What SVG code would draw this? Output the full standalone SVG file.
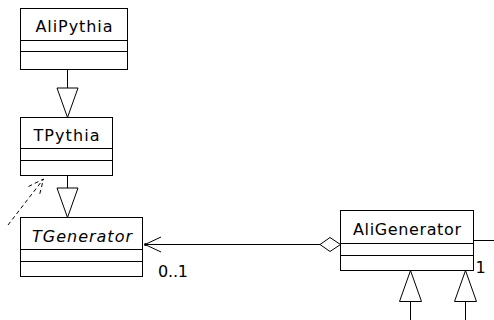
<svg xmlns="http://www.w3.org/2000/svg" width="494" height="320" viewBox="0 0 494 320">
<style>
.box{fill:#fff;stroke:#000;stroke-width:1}
.ln{stroke:#000;stroke-width:1;fill:none}
.dash{stroke:#000;stroke-width:1;fill:none;stroke-dasharray:4 3}
.tri{fill:#fff;stroke:#000;stroke-width:1}
.t{font-family:"DejaVu Sans","Liberation Sans",Arial,sans-serif;font-size:16px;fill:#000}
.c{text-anchor:middle}
</style>
<rect width="494" height="320" fill="#fff"/>
<g id="connectors">
  <line class="ln" x1="67.5" y1="69.5" x2="67.5" y2="88"/>
  <polygon class="tri" points="57,88 78,88 67.5,117.5"/>
  <line class="ln" x1="67.5" y1="175.5" x2="67.5" y2="188"/>
  <polygon class="tri" points="57,188 78,188 67.5,217.5"/>
  <line class="dash" x1="8" y1="225" x2="43.5" y2="179"/>
  <polyline class="dash" points="28.5,186.5 43.5,179 39.5,195"/>
  <line class="ln" x1="145" y1="244.5" x2="320" y2="244.5"/>
  <polyline class="ln" points="161,237 145,244.5 161,252"/>
  <circle cx="145.5" cy="244.5" r="1.5" fill="#000"/>
  <polygon class="tri" points="320,244.5 330,237.5 340.5,244.5 330,251.5"/>
  <line class="ln" x1="473.5" y1="240.5" x2="494" y2="240.5"/>
  <polygon class="tri" points="399.5,301.5 421.5,301.5 410.5,270.5"/>
  <line class="ln" x1="410.5" y1="301.5" x2="410.5" y2="320"/>
  <polygon class="tri" points="454.5,301.5 476.5,301.5 465.5,270.5"/>
  <line class="ln" x1="465.5" y1="301.5" x2="465.5" y2="320"/>
  <text class="t" x="158" y="277" textLength="30" lengthAdjust="spacing">0..1</text>
  <text class="t" x="475.5" y="273">1</text>
</g>
<g id="AliPythia">
  <rect class="box" x="20.5" y="8.5" width="107" height="61"/>
  <line class="ln" x1="20.5" y1="40.5" x2="127.5" y2="40.5"/>
  <line class="ln" x1="20.5" y1="51.5" x2="127.5" y2="51.5"/>
  <text class="t c" x="74" y="31.5" textLength="77" lengthAdjust="spacing">AliPythia</text>
</g>
<g id="TPythia">
  <rect class="box" x="20.5" y="117.5" width="92" height="58"/>
  <line class="ln" x1="20.5" y1="148.5" x2="112.5" y2="148.5"/>
  <line class="ln" x1="20.5" y1="160.5" x2="112.5" y2="160.5"/>
  <text class="t c" x="66.5" y="140.5" textLength="66" lengthAdjust="spacing">TPythia</text>
</g>
<g id="TGenerator">
  <rect class="box" x="20.5" y="217.5" width="122" height="59"/>
  <line class="ln" x1="20.5" y1="249.5" x2="142.5" y2="249.5"/>
  <line class="ln" x1="20.5" y1="261.5" x2="142.5" y2="261.5"/>
  <text class="t c" x="82" y="241.5" font-style="italic" textLength="100" lengthAdjust="spacing">TGenerator</text>
</g>
<g id="AliGenerator">
  <rect class="box" x="340.5" y="210.5" width="133" height="60"/>
  <line class="ln" x1="340.5" y1="243.5" x2="473.5" y2="243.5"/>
  <line class="ln" x1="340.5" y1="255.5" x2="473.5" y2="255.5"/>
  <text class="t c" x="407" y="235" textLength="108" lengthAdjust="spacing">AliGenerator</text>
</g>
</svg>
